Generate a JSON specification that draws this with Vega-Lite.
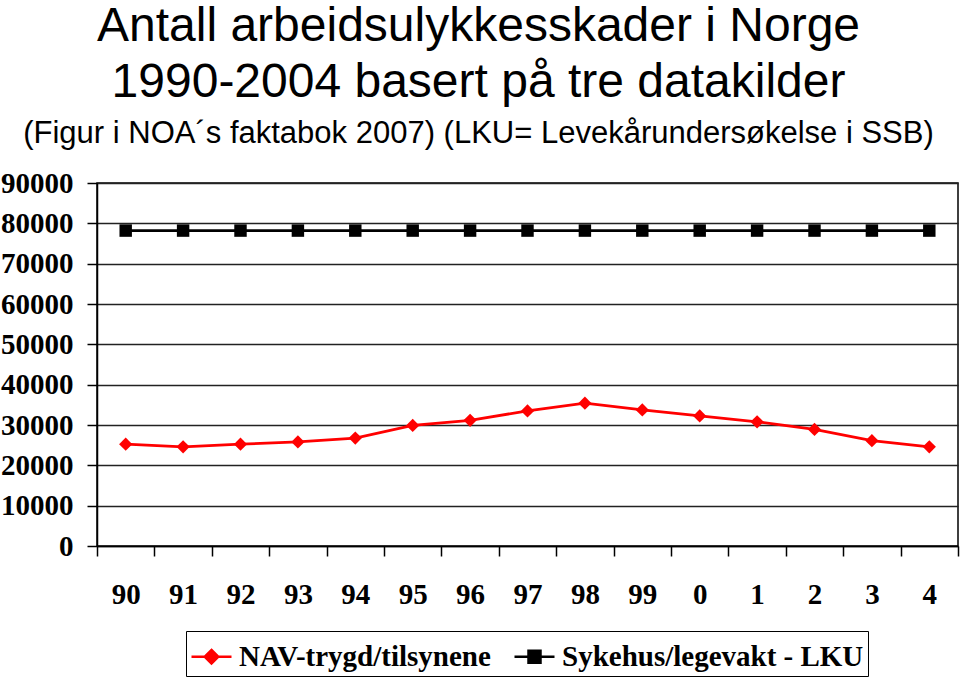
{
  "$schema": "https://vega.github.io/schema/vega-lite/v6.json",
  "width": 861,
  "height": 363,
  "autosize": {"type": "none"},
  "padding": {"left": 97, "top": 183, "right": 2, "bottom": 133},
  "background": "white",
  "config": {
    "view": {"stroke": "black", "strokeWidth": 1.5},
    "axis": {
      "labelFont": "Liberation Serif", "labelFontWeight": "bold", "labelFontSize": 29, "labelColor": "black",
      "domainColor": "black", "domainWidth": 1.5, "tickColor": "black", "tickWidth": 1.5, "tickSize": 10,
      "gridColor": "#222222", "gridWidth": 1.5, "title": null
    }
  },
  "title": {
    "text": ["Antall arbeidsulykkesskader i Norge", "1990-2004 basert på tre datakilder"],
    "subtitle": "(Figur i NOA´s faktabok 2007) (LKU= Levekårundersøkelse i SSB)",
    "font": "Liberation Sans", "fontWeight": "normal", "fontSize": 48, "lineHeight": 56, "color": "black",
    "subtitleFont": "Liberation Sans", "subtitleFontSize": 31, "subtitleColor": "black", "subtitlePadding": 12,
    "anchor": "middle", "dx": -49, "offset": 20
  },
  "data": {
    "values": [
      {"year": "90", "series": "NAV-trygd/tilsynene", "value": 25250},
      {"year": "91", "series": "NAV-trygd/tilsynene", "value": 24600},
      {"year": "92", "series": "NAV-trygd/tilsynene", "value": 25250},
      {"year": "93", "series": "NAV-trygd/tilsynene", "value": 25800},
      {"year": "94", "series": "NAV-trygd/tilsynene", "value": 26750},
      {"year": "95", "series": "NAV-trygd/tilsynene", "value": 29900},
      {"year": "96", "series": "NAV-trygd/tilsynene", "value": 31150},
      {"year": "97", "series": "NAV-trygd/tilsynene", "value": 33500},
      {"year": "98", "series": "NAV-trygd/tilsynene", "value": 35400},
      {"year": "99", "series": "NAV-trygd/tilsynene", "value": 33750},
      {"year": "0", "series": "NAV-trygd/tilsynene", "value": 32250},
      {"year": "1", "series": "NAV-trygd/tilsynene", "value": 30800},
      {"year": "2", "series": "NAV-trygd/tilsynene", "value": 28900},
      {"year": "3", "series": "NAV-trygd/tilsynene", "value": 26100},
      {"year": "4", "series": "NAV-trygd/tilsynene", "value": 24600},
      {"year": "90", "series": "Sykehus/legevakt - LKU", "value": 78200},
      {"year": "91", "series": "Sykehus/legevakt - LKU", "value": 78200},
      {"year": "92", "series": "Sykehus/legevakt - LKU", "value": 78200},
      {"year": "93", "series": "Sykehus/legevakt - LKU", "value": 78200},
      {"year": "94", "series": "Sykehus/legevakt - LKU", "value": 78200},
      {"year": "95", "series": "Sykehus/legevakt - LKU", "value": 78200},
      {"year": "96", "series": "Sykehus/legevakt - LKU", "value": 78200},
      {"year": "97", "series": "Sykehus/legevakt - LKU", "value": 78200},
      {"year": "98", "series": "Sykehus/legevakt - LKU", "value": 78200},
      {"year": "99", "series": "Sykehus/legevakt - LKU", "value": 78200},
      {"year": "0", "series": "Sykehus/legevakt - LKU", "value": 78200},
      {"year": "1", "series": "Sykehus/legevakt - LKU", "value": 78200},
      {"year": "2", "series": "Sykehus/legevakt - LKU", "value": 78200},
      {"year": "3", "series": "Sykehus/legevakt - LKU", "value": 78200},
      {"year": "4", "series": "Sykehus/legevakt - LKU", "value": 78200}
    ]
  },
  "encoding": {
    "x": {
      "field": "year", "type": "ordinal",
      "sort": ["90", "91", "92", "93", "94", "95", "96", "97", "98", "99", "0", "1", "2", "3", "4"],
      "scale": {"paddingInner": 0, "paddingOuter": 0},
      "axis": {"labelAngle": 0, "tickBand": "extent", "labelPadding": 24, "grid": false}
    },
    "y": {
      "field": "value", "type": "quantitative",
      "scale": {"domain": [0, 90000], "nice": false},
      "axis": {"values": [0, 10000, 20000, 30000, 40000, 50000, 60000, 70000, 80000, 90000], "format": "d", "labelPadding": 14, "grid": true}
    }
  },
  "layer": [
    {
      "mark": {"type": "line", "strokeWidth": 2.8},
      "encoding": {
        "color": {
          "field": "series", "type": "nominal",
          "scale": {"domain": ["NAV-trygd/tilsynene", "Sykehus/legevakt - LKU"], "range": ["#ff0000", "#000000"]},
          "legend": {
            "orient": "none", "legendX": 89, "legendY": 448, "direction": "horizontal", "title": null,
            "labelFont": "Liberation Serif", "labelFontWeight": "bold", "labelFontSize": 29, "labelColor": "black", "labelLimit": 1000,
            "labelOffset": 6, "strokeColor": "black", "fillColor": "white", "padding": 4, "columnPadding": 18,
            "symbolSize": 1600, "symbolStrokeWidth": 2.5,
            "encode": {
              "symbols": {
                "update": {
                  "shape": {"signal": "datum.value === 'NAV-trygd/tilsynene' ? 'M-1,0L1,0M0,-0.34L0.34,0L0,0.34L-0.34,0Z' : 'M-1,0L1,0M-0.3,-0.3L0.3,-0.3L0.3,0.3L-0.3,0.3Z'"},
                  "fill": {"signal": "datum.value === 'NAV-trygd/tilsynene' ? '#ff0000' : '#000000'"},
                  "stroke": {"signal": "datum.value === 'NAV-trygd/tilsynene' ? '#ff0000' : '#000000'"},
                  "opacity": {"value": 1}
                }
              }
            }
          }
        }
      }
    },
    {
      "transform": [{"filter": "datum.series === 'NAV-trygd/tilsynene'"}],
      "mark": {"type": "point", "shape": "diamond", "filled": true, "opacity": 1, "size": 175, "color": "#ff0000"}
    },
    {
      "transform": [{"filter": "datum.series === 'Sykehus/legevakt - LKU'"}],
      "mark": {"type": "point", "shape": "square", "filled": true, "opacity": 1, "size": 155, "color": "#000000"}
    }
  ]
}
